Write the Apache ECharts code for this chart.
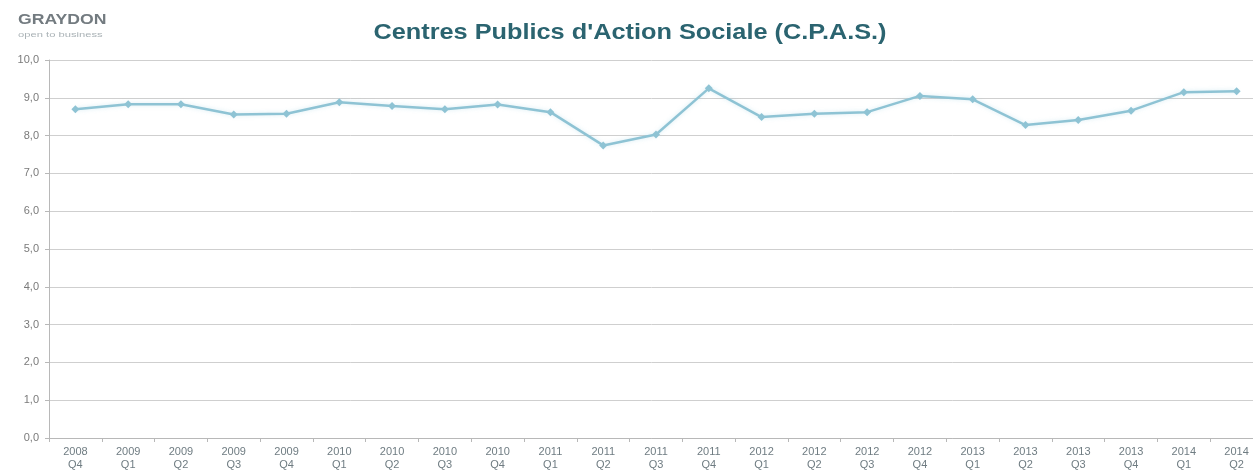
<!DOCTYPE html>
<html>
<head>
<meta charset="utf-8">
<script src="https://cdn.jsdelivr.net/npm/echarts@6/dist/echarts.min.js"></script>
<style>html,body{margin:0;padding:0;background:#fff}#c{width:1253px;height:476px}</style>
</head>
<body>
<div id="c"></div>
<script>
const categories = ["2008\nQ4","2009\nQ1","2009\nQ2","2009\nQ3","2009\nQ4","2010\nQ1","2010\nQ2","2010\nQ3","2010\nQ4","2011\nQ1","2011\nQ2","2011\nQ3","2011\nQ4","2012\nQ1","2012\nQ2","2012\nQ3","2012\nQ4","2013\nQ1","2013\nQ2","2013\nQ3","2013\nQ4","2014\nQ1","2014\nQ2"];
const values = [8.70,8.83,8.83,8.56,8.58,8.88,8.78,8.70,8.82,8.62,7.74,8.03,9.25,8.49,8.58,8.62,9.05,8.96,8.28,8.41,8.66,9.15,9.17];
const titleText = "Centres Publics d'Action Sociale (C.P.A.S.)";
const logoText = "GRAYDON";
const logoSub = "open to business";

const chart = echarts.init(document.getElementById('c'));
chart.setOption({
  animation: false,
  backgroundColor: '#fff',
  graphic: [
    {type: 'text', x: 630, y: 22, scaleX: 1.15, originX: 0,
      style: {text: titleText, font: 'bold 22px "Liberation Sans", Arial', fill: '#2b6470', textAlign: 'center', textVerticalAlign: 'top'}},
    {type: 'text', x: 18, y: 13, scaleX: 1.26,
      style: {text: logoText, font: 'bold 14px "Liberation Sans", Arial', fill: '#737b80'}},
    {type: 'text', x: 18, y: 31, scaleX: 1.4,
      style: {text: logoSub, font: '8px "Liberation Sans", Arial', fill: '#aab2b6'}}
  ],
  grid: {left: 49, top: 60, bottom: 38, width: 1214, containLabel: false, outerBoundsMode: 'none'},
  xAxis: {
    type: 'category', data: categories, boundaryGap: true,
    axisLine: {lineStyle: {color: '#b8b8b8'}},
    axisTick: {show: true, length: 4, lineStyle: {color: '#b8b8b8'}},
    axisLabel: {interval: 0, color: '#6f7c82', fontFamily: 'Liberation Sans, Arial', fontSize: 11, lineHeight: 13, margin: 7}
  },
  yAxis: {
    type: 'value', min: 0, max: 10, interval: 1,
    axisLine: {show: true, lineStyle: {color: '#b8b8b8'}},
    axisTick: {show: true, length: 4, lineStyle: {color: '#b8b8b8'}},
    splitLine: {lineStyle: {color: '#cfcfcf', width: 1}},
    axisLabel: {color: '#7a7a7a', fontFamily: 'Liberation Sans, Arial', fontSize: 11, margin: 10,
      formatter: v => v.toFixed(1).replace('.', ',')}
  },
  series: [{
    type: 'line', data: values,
    symbol: 'diamond', symbolSize: 8,
    lineStyle: {color: '#8ec3d4', width: 2.5, shadowColor: 'rgba(140,200,220,0.35)', shadowBlur: 4},
    itemStyle: {color: '#8ec3d4'}
  }]
});
</script>
</body>
</html>
